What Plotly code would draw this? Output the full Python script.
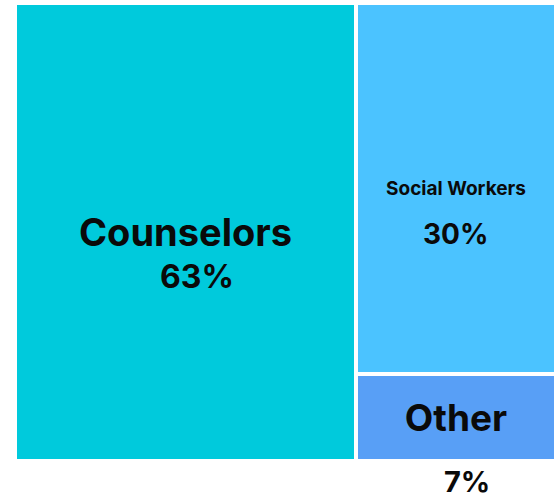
import plotly.graph_objects as go

labels = ["Counselors", "Social Workers", "Other"]
values = [63, 30, 7]
colors = ["#00CADC", "#4BC3FF", "#589FF6"]
label_sizes = [38, 19, 37]
pct_sizes = [32, 28, 29]
pct_shift_x = [12, 0, 11]
pct_shift_y = [-44, -45, -64]

FONT = "Inter, Open Sans, sans-serif"
TEXT_COLOR = "#0A0A0A"
total = sum(values)
pct_text = [f"{round(v / total * 100)}%" for v in values]

# slice-and-dice layout: first value takes a full-height column, the rest stack in the second column
rest = sum(values[1:])
col_w = [values[0], rest, rest]
x_centre = [values[0] / 2, values[0] + rest / 2, values[0] + rest / 2]
heights = [1.0, values[1] / rest, values[2] / rest]
bases = [0.0, values[2] / rest, 0.0]

fig = go.Figure(go.Bar(
    x=x_centre,
    y=heights,
    base=bases,
    width=col_w,
    text=[f"<b>{l}</b>" for l in labels],
    textposition="inside",
    insidetextanchor="middle",
    textangle=0,
    constraintext="none",
    textfont=dict(family=FONT, size=label_sizes, color=TEXT_COLOR),
    marker=dict(color=colors, line=dict(color="white", width=4)),
    hovertext=[f"{l}: {p}" for l, p in zip(labels, pct_text)],
    hoverinfo="text",
))

for cx, b, h, t, s, dx, dy in zip(x_centre, bases, heights, pct_text, pct_sizes, pct_shift_x, pct_shift_y):
    fig.add_annotation(x=cx, y=b + h / 2, xref="x", yref="y", text=f"<b>{t}</b>",
                       showarrow=False, xshift=dx, yshift=dy, borderpad=0,
                       font=dict(family=FONT, size=s, color=TEXT_COLOR))

fig.update_layout(
    width=559, height=499,
    margin=dict(l=15, r=3, t=3, b=38),
    paper_bgcolor="white",
    plot_bgcolor="white",
    showlegend=False,
    bargap=0,
    xaxis=dict(range=[0, total], visible=False, fixedrange=True),
    yaxis=dict(range=[0, 1], visible=False, fixedrange=True),
)
fig.write_html("out.html", config={"displayModeBar": False},
               post_script="document.body.style.margin='0';")
